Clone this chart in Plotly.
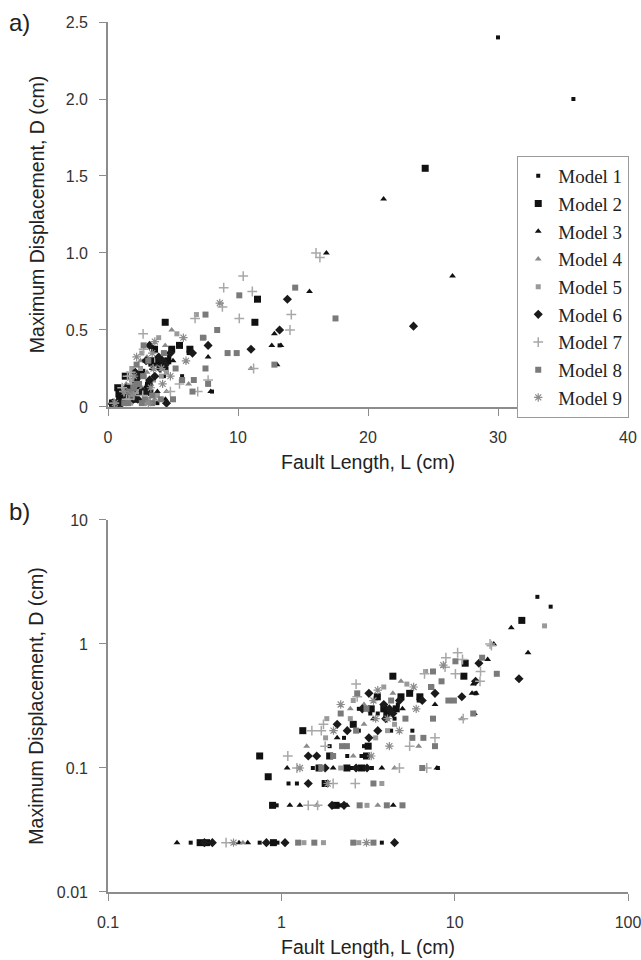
import plotly.graph_objects as go

# Fault length L (cm) and maximum displacement D (cm) for each experimental model
model_names = ["Model 1", "Model 2", "Model 3", "Model 4", "Model 5",
               "Model 6", "Model 7", "Model 8", "Model 9"]

m1_L = [30.0, 35.8, 0.30, 0.38, 0.75, 0.95, 3.8, 0.94, 2.18, 1.23, 1.52, 2.55, 3.33, 8.0,
        2.9, 2.3, 2.8, 5.7, 3.26, 4.7, 6.2, 2.8, 13.2, 1.9, 4.3, 3.0, 1.1, 3.6, 4.5, 2.4]
m1_D = [2.40, 2.00, 0.025, 0.025, 0.025, 0.025, 0.025, 0.05, 0.05, 0.075, 0.1, 0.1, 0.1, 0.1,
        0.125, 0.175, 0.2, 0.2, 0.275, 0.325, 0.35, 0.3, 0.4, 0.15, 0.2, 0.15, 0.075,
        0.275, 0.25, 0.125]

m2_L = [24.4, 11.3, 4.4, 11.5, 6.3, 0.75, 0.34, 0.37, 0.90, 0.89, 2.07, 0.84, 1.79, 1.65,
        2.39, 2.9, 3.1, 3.17, 1.33, 4.06, 3.58, 5.5, 2.6, 3.9, 4.9, 3.3, 4.6, 1.9]
m2_D = [1.55, 0.55, 0.55, 0.70, 0.375, 0.125, 0.025, 0.025, 0.025, 0.05, 0.05, 0.085, 0.075, 0.1,
        0.1, 0.1, 0.125, 0.15, 0.2, 0.275, 0.375, 0.4, 0.225, 0.3, 0.375, 0.3, 0.3, 0.125]

m3_L = [21.2, 26.5, 15.5, 12.6, 13.3, 13.0, 12.8, 7.7, 7.9, 3.8, 1.99, 1.08, 0.25, 0.57,
        0.64, 1.12, 1.28, 2.39, 4.42, 5.0, 16.8, 3.4, 2.1]
m3_D = [1.35, 0.85, 0.75, 0.40, 0.40, 0.275, 0.475, 0.325, 0.1, 0.1, 0.1, 0.1, 0.025, 0.025,
        0.025, 0.05, 0.05, 0.05, 0.05, 0.3, 1.0, 0.25, 0.175]

m4_L = [11.0, 4.9, 6.2, 3.0, 3.0, 4.4, 0.60, 4.5, 2.6, 1.6, 3.6, 1.4, 2.5]
m4_D = [0.25, 0.50, 0.15, 0.225, 0.325, 0.40, 0.025, 0.1, 0.125, 0.05, 0.05, 0.15, 0.3]

m5_L = [33.0, 6.8, 1.35, 1.75, 2.8, 3.12, 3.8, 1.8, 4.1, 1.83, 2.5, 4.5, 2.6, 3.9, 5.3,
        7.4, 2.2, 3.5]
m5_D = [1.40, 0.60, 0.025, 0.025, 0.025, 0.05, 0.075, 0.175, 0.2, 0.25, 0.25, 0.225, 0.35,
        0.45, 0.475, 0.45, 0.1, 0.175]

m6_L = [23.5, 13.8, 11.0, 7.7, 13.2, 0.36, 0.40, 0.82, 1.05, 4.5, 1.96, 2.3, 1.43, 1.79,
        2.7, 3.12, 1.43, 3.2, 2.4, 3.6, 2.93, 4.2, 4.8, 6.5, 3.2, 4.0, 3.9, 4.4, 2.1, 1.6]
m6_D = [0.525, 0.70, 0.375, 0.40, 0.50, 0.025, 0.025, 0.025, 0.025, 0.025, 0.05, 0.05, 0.075,
        0.1, 0.1, 0.1, 0.125, 0.175, 0.2, 0.2, 0.3, 0.3, 0.35, 0.35, 0.4, 0.25,
        0.325, 0.275, 0.225, 0.125]

m7_L = [16.0, 10.4, 8.9, 11.1, 8.8, 10.1, 14.1, 14.0, 11.2, 2.7, 6.7, 2.74, 1.75, 1.5, 1.7,
        5.5, 1.79, 7.7, 1.09, 1.23, 4.8, 6.9, 1.99, 2.67, 1.43, 1.62, 0.48, 16.3]
m7_D = [1.00, 0.85, 0.775, 0.75, 0.65, 0.575, 0.60, 0.50, 0.25, 0.475, 0.575, 0.375, 0.225,
        0.2, 0.2, 0.15, 0.15, 0.175, 0.125, 0.1, 0.1, 0.1, 0.075, 0.075, 0.05, 0.05, 0.025, 0.97]

m8_L = [17.5, 14.4, 10.1, 7.5, 7.3, 8.4, 9.2, 9.9, 7.5, 6.5, 5.7, 6.6, 1.99, 2.24, 2.39, 2.7,
        2.2, 2.74, 5.2, 2.83, 4.06, 5.0, 3.4, 1.25, 1.55, 2.6, 3.4, 12.8, 7.7, 3.1, 4.3, 1.7]
m8_D = [0.575, 0.775, 0.725, 0.60, 0.45, 0.50, 0.35, 0.35, 0.25, 0.1, 0.175, 0.175, 0.125,
        0.15, 0.15, 0.2, 0.275, 0.4, 0.25, 0.05, 0.05, 0.05, 0.075, 0.025, 0.025, 0.025, 0.025,
        0.275, 0.15, 0.3, 0.35, 0.1]

m9_L = [8.6, 5.8, 4.2, 4.8, 2.0, 4.1, 3.5, 3.4, 3.6, 2.2, 1.85, 1.28, 0.53, 3.1, 6.0, 3.3]
m9_D = [0.675, 0.45, 0.15, 0.2, 0.2, 0.25, 0.25, 0.35, 0.425, 0.325, 0.075, 0.1, 0.025, 0.025,
        0.3, 0.125]

series_L = [m1_L, m2_L, m3_L, m4_L, m5_L, m6_L, m7_L, m8_L, m9_L]
series_D = [m1_D, m2_D, m3_D, m4_D, m5_D, m6_D, m7_D, m8_D, m9_D]

# marker look for each model
marker_styles = [
    dict(symbol="square", size=4, color="#111111"),
    dict(symbol="square", size=7, color="#111111"),
    dict(symbol="triangle-up", size=6, color="#111111"),
    dict(symbol="triangle-up", size=6, color="#8a8a8a"),
    dict(symbol="square", size=5, color="#9a9a9a"),
    dict(symbol="diamond", size=7, color="#1a1a1a"),
    dict(symbol="cross-thin-open", size=7, color="#a8a8a8", line=dict(color="#a8a8a8", width=1.5)),
    dict(symbol="square", size=6, color="#7a7a7a"),
    dict(symbol="asterisk-open", size=7, color="#8c8c8c", line=dict(color="#8c8c8c", width=1.2)),
]

fig = go.Figure()
for name, L, D, mk in zip(model_names, series_L, series_D, marker_styles):
    fig.add_trace(go.Scatter(x=L, y=D, mode="markers", name=name, legendgroup=name,
                             marker=mk, xaxis="x", yaxis="y", showlegend=True))
    fig.add_trace(go.Scatter(x=L, y=D, mode="markers", name=name, legendgroup=name,
                             marker=mk, xaxis="x2", yaxis="y2", showlegend=False))

axis_color = "#8c8c8c"
sans = "Liberation Sans, Arial, Helvetica"
tick_font = dict(family=sans, size=16, color="#333333")
title_font = dict(family=sans, size=19.5, color="#222222")

common = dict(showline=True, linecolor=axis_color, linewidth=1.6, ticks="outside",
              ticklen=7, tickcolor=axis_color, tickwidth=1.2, showgrid=False,
              zeroline=False, tickfont=tick_font, ticklabeloverflow="allow")

top_b = 0.4276  # top of the lower panel in paper units

fig.update_layout(
    width=641, height=960,
    margin=dict(l=108, r=13, t=22, b=68, autoexpand=False),
    paper_bgcolor="white", plot_bgcolor="white",
    xaxis=dict(domain=[0, 1], anchor="y", range=[0, 40],
               tickvals=[0, 10, 20, 30, 40], ticktext=["0", "10", "20", "30", "40"],
               ticklabelstandoff=8,
               title=dict(text="Fault Length, L (cm)", font=title_font, standoff=10),
               **common),
    yaxis=dict(domain=[0.5575, 1], anchor="x", range=[0, 2.5],
               tickvals=[0, 0.5, 1.0, 1.5, 2.0, 2.5],
               ticktext=["0", "0.5", "1.0", "1.5", "2.0", "2.5"],
               ticklabelstandoff=8,
               title=dict(text="Maximum Displacement, D (cm)", font=title_font, standoff=16),
               **common),
    xaxis2=dict(domain=[0, 1], anchor="y2", type="log", range=[-1, 2],
                tickvals=[0.1, 1, 10, 100], ticktext=["0.1", "1", "10", "100"],
                ticklabelstandoff=8,
                title=dict(text="Fault Length, L (cm)", font=title_font, standoff=10),
                **common),
    yaxis2=dict(domain=[0, top_b], anchor="x2", type="log", range=[-2, 1],
                tickvals=[0.01, 0.1, 1, 10], ticktext=["0.01", "0.1", "1", "10"],
                ticklabelstandoff=8,
                title=dict(text="Maximum Displacement, D (cm)", font=title_font, standoff=8),
                **common),
    legend=dict(x=0.787, y=0.846, xanchor="left", yanchor="top",
                bgcolor="white", bordercolor="#9a9a9a", borderwidth=1,
                font=dict(family="Liberation Serif, Times New Roman", size=19, color="#222222"),
                tracegroupgap=0),
    annotations=[
        dict(text="a)", x=-0.195, y=1.0, xref="paper", yref="paper", xanchor="left",
             yanchor="middle", showarrow=False,
             font=dict(family=sans, size=24, color="#222222")),
        dict(text="b)", x=-0.195, y=top_b + 0.01, xref="paper", yref="paper", xanchor="left",
             yanchor="middle", showarrow=False,
             font=dict(family=sans, size=24, color="#222222")),
    ],
    showlegend=True,
)

fig.write_html("out.html")
